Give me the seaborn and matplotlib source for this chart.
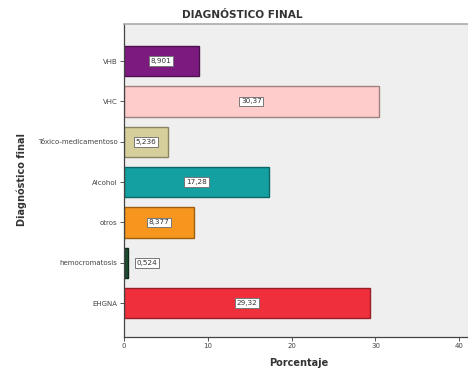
import matplotlib
matplotlib.use("Agg")
import matplotlib.pyplot as plt
import seaborn as sns
import pandas as pd

categories = ["VHB", "VHC", "Tóxico-medicamentoso", "Alcohol", "otros",
              "hemocromatosis", "EHGNA"]
porcentaje = [8.901, 30.37, 5.236, 17.28, 8.377, 0.524, 29.32]
value_labels = ["8,901", "30,37", "5,236", "17,28", "8,377", "0,524", "29,32"]
x_ticks = [0, 10, 20, 30, 40]

fill_colors = ["#7d1a7f", "#ffcccc", "#d6cf9c", "#14a0a0", "#f7961e",
               "#1d4d33", "#ef2f3b"]
edge_colors = ["#4e104f", "#a08080", "#8a8460", "#0c6666", "#9c5e12",
               "#0f2a1b", "#962028"]

df = pd.DataFrame({"Diagnóstico final": categories, "Porcentaje": porcentaje})

sns.set_style("white")
plt.rcParams["font.family"] = ["DejaVu Sans"]

fig = plt.figure(figsize=(4.68, 3.71), dpi=100)
ax = fig.add_axes([124 / 468, 1 - 337 / 371, 1 - 124 / 468 + 0.01, (337 - 24) / 371])
ax.set_facecolor("#efefef")

sns.barplot(data=df, y="Diagnóstico final", x="Porcentaje",
            hue="Diagnóstico final", palette=fill_colors, order=categories,
            hue_order=categories, orient="h", width=0.75, saturation=1,
            legend=False, ax=ax)

for patch, ec in zip(ax.patches, edge_colors):
    patch.set_edgecolor(ec)
    patch.set_linewidth(1.0)

for i, (v, lab) in enumerate(zip(porcentaje, value_labels)):
    if v > 3:
        xpos, ha = v / 2, "center"
    else:
        xpos, ha = v + 1.0, "left"
    ax.text(xpos, i, lab, ha=ha, va="center", fontsize=5.2, color="#333333",
            bbox=dict(boxstyle="square,pad=0.25", facecolor="white",
                      edgecolor="#777777", linewidth=0.7))

ax.set_xlim(0, 41.6)
ax.set_ylim(6.84, -0.92)
ax.set_xticks(x_ticks)
ax.set_xticklabels([str(t) for t in x_ticks])
ax.tick_params(axis="both", which="both", direction="out", length=3,
               width=0.7, labelsize=5, colors="#555555", labelcolor="#444444",
               bottom=True, left=True, pad=1.5)

for side in ["left", "bottom"]:
    ax.spines[side].set_color("#444444")
    ax.spines[side].set_linewidth(0.9)
ax.spines["top"].set_color("#aaaaaa")
ax.spines["top"].set_linewidth(1.2)
ax.spines["right"].set_visible(False)

ax.set_xlabel("Porcentaje", fontsize=7, fontweight="bold", color="#333333",
              labelpad=6)
ax.set_ylabel("")
fig.text(22 / 468, 1 - 180 / 371, "Diagnóstico final", rotation=90,
         ha="center", va="center", fontsize=7, fontweight="bold", color="#333333")
fig.text(242 / 468, 1 - 15 / 371, "DIAGNÓSTICO FINAL", ha="center",
         va="center", fontsize=7.6, fontweight="bold", color="#333333")

fig.savefig("out.png", dpi=100)
